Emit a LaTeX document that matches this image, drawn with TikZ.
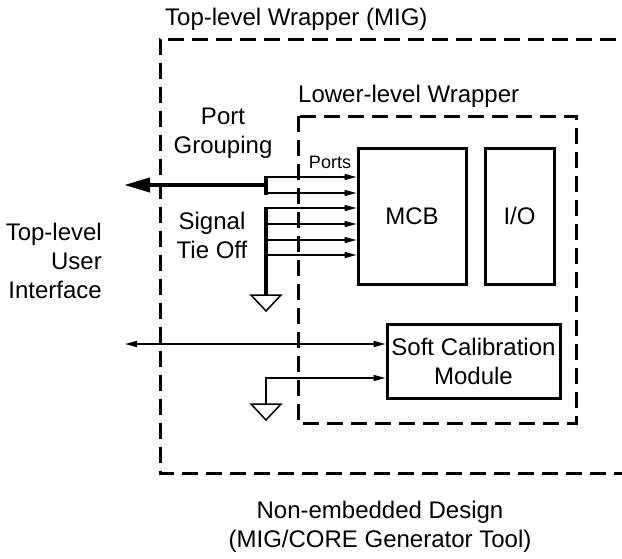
\documentclass[tikz,border=0pt]{standalone}
\usepackage{fontspec}
\setmainfont{Liberation Sans}
\usetikzlibrary{arrows.meta,positioning}
\tikzset{
  wrapper/.style={line width=3pt, dash pattern=on 16pt off 8pt},
  block/.style={draw, line width=3pt, inner sep=0pt, font=\fontsize{24}{29}\selectfont, align=center},
  port/.style={line width=1.5pt, -{Triangle[length=12pt,width=6pt]}},
  bus/.style={line width=4pt},
  gnd/.style={line width=1.5pt},
  lbl/.style={font=\fontsize{24}{29}\selectfont, align=center, inner sep=0pt},
}
\newcommand{\gndsym}[1]{\draw[gnd] (#1) ++(-15,0) -- ++(30,0) -- ++(-15,16) -- cycle;}

\begin{document}
\begin{tikzpicture}[x=1pt,y=-1pt]
\useasboundingbox (0,0) rectangle (622,558);
\clip (0,0) rectangle (622,558);
\draw[wrapper] (640,39) -- (160,39) -- (160,473) -- (640,473); % top-level wrapper
\draw[wrapper] (298,116) rectangle (576,423); % lower-level wrapper
\node[lbl, anchor=base west] (top) at (165,25) {Top-level Wrapper (MIG)};
\node[lbl, anchor=base west] (low) at (298,102) {Lower-level Wrapper};
\node[block, minimum width=108pt, minimum height=136pt] (mcb) at (412,216) {MCB};
\node[block, minimum width=69pt, minimum height=136pt, right=16pt of mcb] (io) {I/O};
\node[block, minimum width=173pt, minimum height=74pt] (cal) at (473.5,361) {Soft Calibration\\Module};
\node[lbl] (grouping) at (223,133) {Port\\Grouping};
\node[lbl] (tieoff) at (212,235) {Signal\\Tie Off};
\node[lbl, align=right, anchor=east] (user) at (102,261) {Top-level\\User\\Interface};
\node[lbl] (design) at (380,527) {Non-embedded Design\\(MIG/CORE Generator Tool)};
\node[font=\fontsize{18}{22}\selectfont, anchor=base, inner sep=0pt] (ports) at (330,168) {Ports};
% port arrows
\foreach \y [count=\i] in {177,193,208,224,240,255}
  \coordinate (p\i) at (266,\y);
\foreach \i in {1,...,6}
  \draw[port] (p\i) -- (p\i -| mcb.west);
\coordinate (grp) at (266,185);
\coordinate (out) at (124,185);
\coordinate (gnd1) at (266,295);
\draw[bus] ([yshift=1.5pt]p1) -- ([yshift=-1.5pt]p2); % grouping bar
\draw[bus, -{Triangle[length=26pt,width=14pt]}] (grp) -- (out); % grouped ports
\draw[bus] ([yshift=1.5pt]p3) -- (gnd1); % tie off bar
\gndsym{gnd1}
% soft calibration
\coordinate (usr) at (125,344);
\coordinate (gnd2) at (266,404);
\draw[port, {Triangle[length=12pt,width=6pt]}-{Triangle[length=12pt,width=6pt]}] (usr) -- (usr -| cal.west);
\draw[port] (gnd2) |- ([yshift=-17pt]cal.west);
\gndsym{gnd2}
\end{tikzpicture}
\end{document}
